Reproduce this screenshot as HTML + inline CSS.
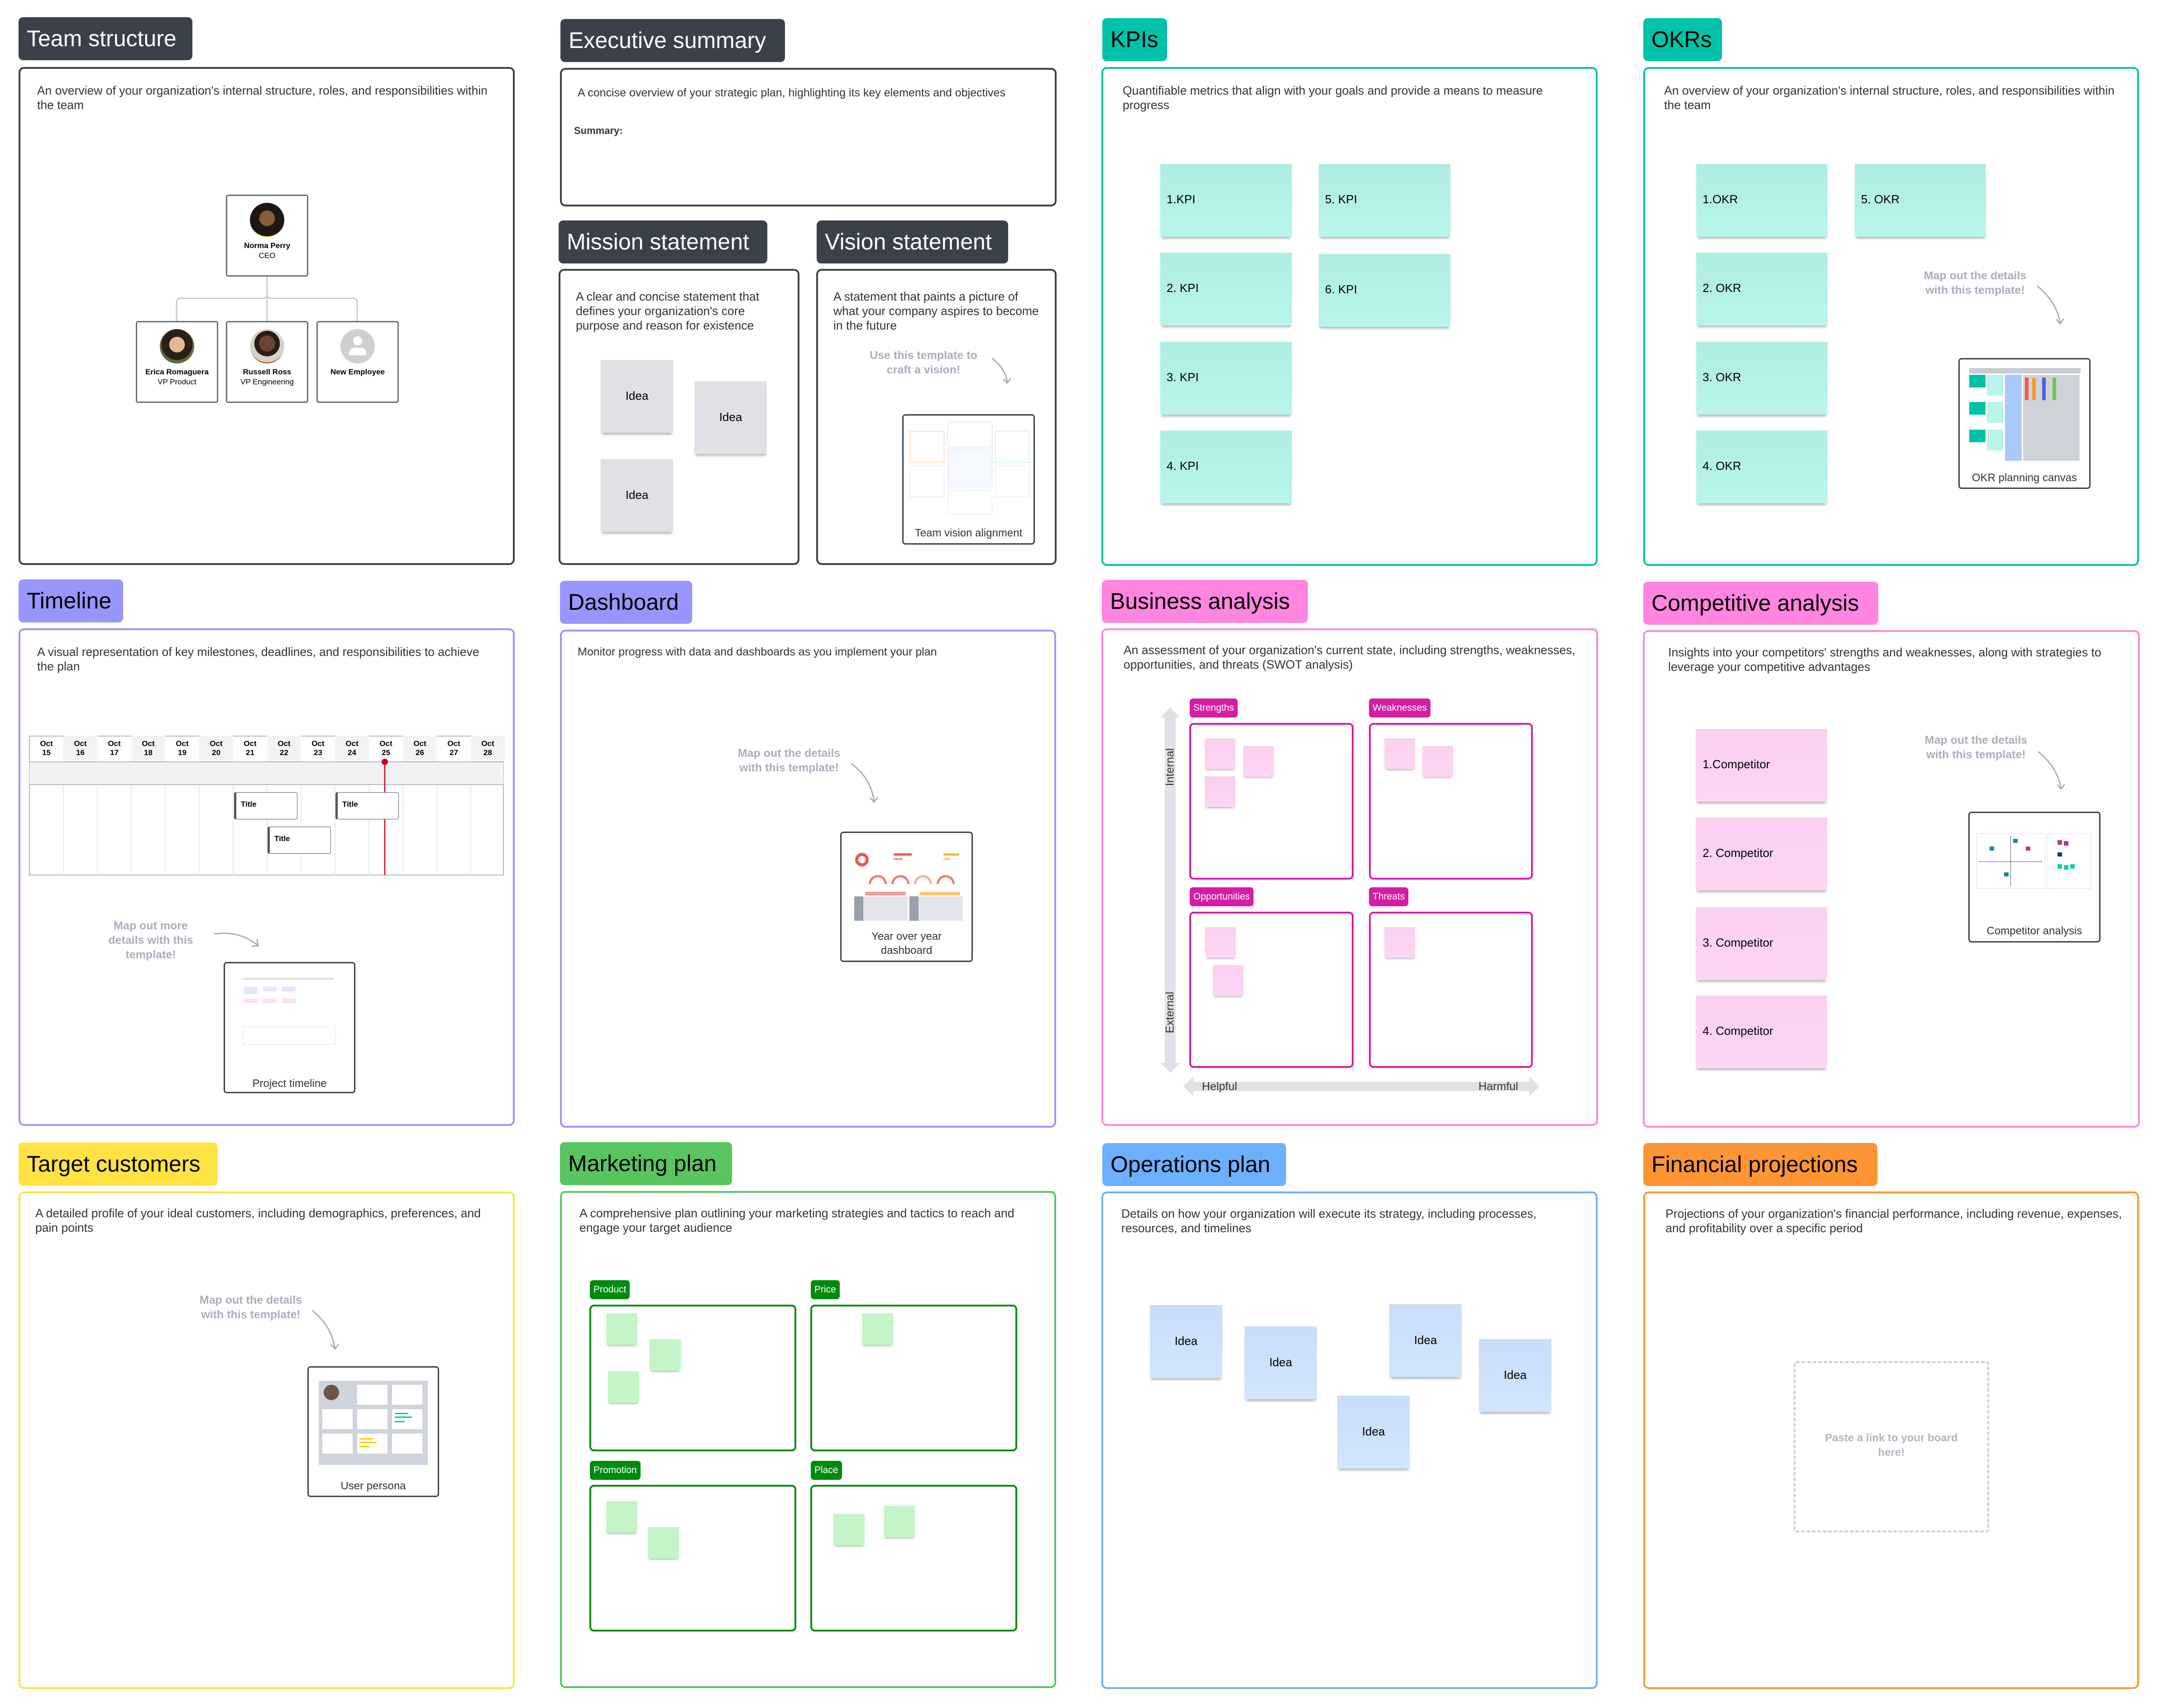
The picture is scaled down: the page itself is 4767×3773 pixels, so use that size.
<!DOCTYPE html>
<html><head><meta charset="utf-8">
<style>
*{box-sizing:border-box;margin:0;padding:0}
body{width:4767px;height:3773px;background:#fff;position:relative;overflow:hidden;font-family:"Liberation Sans",Arial,sans-serif;color:#222}
.a{position:absolute}
.lbl{position:absolute;height:95px;border-radius:10px;font-size:50px;line-height:95px;padding-left:18px;color:#000;white-space:nowrap}
.dark{background:#3a414a;color:#fff}
.pnl{position:absolute;border:4px solid #3a414a;border-radius:12px;background:#fff}
.desc{position:absolute;font-size:26.5px;line-height:32px;color:#333}
.st{position:absolute;box-shadow:0 7px 5px -3px rgba(0,0,0,.28)}
.st span{position:absolute}
.gray{background:#dfe1e5}.teal{background:linear-gradient(#afede4,#b8f5ec)}.pink{background:linear-gradient(#fbd0ef,#fdd6f4)}.grn{background:#c3f5c8}.blu{background:linear-gradient(#c9ddfa,#d2e5fd)}
.hint{position:absolute;font-size:25px;line-height:32px;font-weight:bold;color:#a9aebb;text-align:center;white-space:nowrap}
.card{position:absolute;border:3px solid #3a414a;border-radius:7px;background:#fff}
.card .cl{position:absolute;left:0;right:0;text-align:center;font-size:24px;line-height:31px;color:#333}
.node{position:absolute;width:182px;height:181px;border:3px solid #6b6e73;border-radius:5px;background:#fff;text-align:center;font-size:17px;line-height:22px;color:#000}
.av{width:76px;height:76px;border-radius:50%;margin:15px auto 8px}
.tag{position:absolute;height:42px;border-radius:7px;color:#fff;font-size:21px;line-height:42px;padding:0 8px;white-space:nowrap}
.mag{background:#d51da5}.dg{background:#008a0e}
.box{position:absolute;border:4px solid #d51da5;border-radius:10px}
.gbox{position:absolute;border:4px solid #008a0e;border-radius:10px}
.ss{position:absolute;width:68px;height:68px;box-shadow:0 5px 4px -3px rgba(0,0,0,.3)}
.oc{position:absolute;top:1625px;width:75px;height:57px;text-align:center;font-weight:bold;font-size:17px;line-height:20px;padding-top:8px;color:#000}
.tt{position:absolute;width:140px;height:60px;border:1.5px solid #555;border-left:5px solid #555;border-radius:4px;background:#fff;font-weight:bold;font-size:17px;padding:16px 0 0 10px;color:#000}
.mini{position:absolute;background:#e3e5e9}
.top{z-index:2}
</style></head><body>

<!-- ROW 1 -->
<div class="lbl dark" style="left:41px;top:38px;width:384px">Team structure</div>
<div class="pnl" style="left:41px;top:148px;width:1096px;height:1100px"></div>
<div class="desc" style="left:82px;top:184px;width:1010px">An overview of your organization's internal structure, roles, and responsibilities within the team</div>

<div class="node" style="left:499px;top:430px"><div class="av" style="background:radial-gradient(circle at 50% 45%,#8a5a3c 0 30%,#1e1612 31% 70%,#d9e44a 71%)"></div><b>Norma Perry</b><br>CEO</div>
<div class="node" style="left:300px;top:709px"><div class="av" style="background:radial-gradient(circle at 50% 45%,#e6b896 0 30%,#2b2018 31% 60%,#5d6b3e 61%)"></div><b>Erica Romaguera</b><br>VP Product</div>
<div class="node" style="left:499px;top:709px"><div class="av" style="background:radial-gradient(circle at 50% 42%,#6b4530 0 30%,#2a1d16 31% 48%,#d7d2c8 49% 70%,#c5653a 71%)"></div><b>Russell Ross</b><br>VP Engineering</div>
<div class="node" style="left:699px;top:709px"><div class="av" style="background:#cfcfcf;position:relative"><div style="position:absolute;left:28px;top:16px;width:20px;height:20px;border-radius:50%;background:#fff"></div><div style="position:absolute;left:19px;top:41px;width:38px;height:17px;border-radius:12px 12px 3px 3px;background:#fff"></div></div><b>New Employee</b></div>

<!-- Exec -->
<div class="lbl dark" style="left:1238px;top:42px;width:496px">Executive summary</div>
<div class="pnl" style="left:1237px;top:150px;width:1097px;height:306px"></div>
<div class="desc" style="left:1276px;top:189px;font-size:25px">A concise overview of your strategic plan, highlighting its key elements and objectives</div>
<div class="desc" style="left:1268px;top:273px;font-weight:bold;font-size:22px">Summary:</div>

<div class="lbl dark" style="left:1234px;top:487px;width:461px">Mission statement</div>
<div class="pnl" style="left:1234px;top:594px;width:532px;height:654px"></div>
<div class="desc" style="left:1272px;top:639px;width:430px">A clear and concise statement that defines your organization's core purpose and reason for existence</div>
<div class="st gray" style="left:1327px;top:795px;width:160px;height:161px"><span style="left:0;right:0;top:64px;text-align:center;font-size:26px;color:#000">Idea</span></div>
<div class="st gray" style="left:1534px;top:842px;width:160px;height:161px"><span style="left:0;right:0;top:64px;text-align:center;font-size:26px;color:#000">Idea</span></div>
<div class="st gray" style="left:1327px;top:1014px;width:160px;height:161px"><span style="left:0;right:0;top:64px;text-align:center;font-size:26px;color:#000">Idea</span></div>

<div class="lbl dark" style="left:1804px;top:487px;width:423px">Vision statement</div>
<div class="pnl" style="left:1803px;top:594px;width:531px;height:654px"></div>
<div class="desc" style="left:1841px;top:639px;width:465px">A statement that paints a picture of what your company aspires to become in the future</div>
<div class="hint" style="left:1900px;width:280px;top:769px">Use this template to<br>craft a vision!</div>
<div class="card" style="left:1993px;top:915px;width:293px;height:288px">
<div class="mini" style="left:14px;top:34px;width:76px;height:70px;background:#fff;border:1px solid #f3c9a0"></div>
<div class="mini" style="left:97px;top:14px;width:99px;height:56px;background:#fff;border:1px solid #f0d0e4"></div>
<div class="mini" style="left:97px;top:73px;width:99px;height:85px;background:#f5f8fd;border:1px solid #d8e4f5"></div>
<div class="mini" style="left:202px;top:34px;width:76px;height:70px;background:#fff;border:1px solid #a8e8e4"></div>
<div class="mini" style="left:14px;top:110px;width:76px;height:70px;background:#fff;border:1px solid #f3d6d6"></div>
<div class="mini" style="left:202px;top:110px;width:76px;height:70px;background:#fff;border:1px solid #f3e3c6"></div>
<div class="mini" style="left:97px;top:164px;width:99px;height:55px;background:#fff;border:1px solid #d6e8f5"></div>
<div class="cl" style="top:244px">Team vision alignment</div></div>

<!-- KPIs -->
<div class="lbl" style="left:2435px;top:40px;width:143px;background:#00c2a8">KPIs</div>
<div class="pnl" style="left:2433px;top:148px;width:1096px;height:1102px;border-color:#00c2a8"></div>
<div class="desc" style="left:2480px;top:184px;width:960px">Quantifiable metrics that align with your goals and provide a means to measure progress</div>
<div class="st teal" style="left:2563px;top:362px;width:291px;height:161px"><span style="left:14px;top:63px;font-size:26px;color:#000">1.KPI</span></div>
<div class="st teal" style="left:2563px;top:558px;width:291px;height:161px"><span style="left:14px;top:63px;font-size:26px;color:#000">2. KPI</span></div>
<div class="st teal" style="left:2563px;top:755px;width:291px;height:161px"><span style="left:14px;top:63px;font-size:26px;color:#000">3. KPI</span></div>
<div class="st teal" style="left:2563px;top:951px;width:291px;height:161px"><span style="left:14px;top:63px;font-size:26px;color:#000">4. KPI</span></div>
<div class="st teal" style="left:2913px;top:362px;width:291px;height:161px"><span style="left:14px;top:63px;font-size:26px;color:#000">5. KPI</span></div>
<div class="st teal" style="left:2913px;top:561px;width:291px;height:161px"><span style="left:14px;top:63px;font-size:26px;color:#000">6. KPI</span></div>

<!-- OKRs -->
<div class="lbl" style="left:3630px;top:40px;width:174px;background:#00c2a8">OKRs</div>
<div class="pnl" style="left:3630px;top:148px;width:1095px;height:1102px;border-color:#00c2a8"></div>
<div class="desc" style="left:3676px;top:184px;width:1010px">An overview of your organization's internal structure, roles, and responsibilities within the team</div>
<div class="st teal" style="left:3747px;top:362px;width:290px;height:161px"><span style="left:14px;top:63px;font-size:26px;color:#000">1.OKR</span></div>
<div class="st teal" style="left:3747px;top:558px;width:290px;height:161px"><span style="left:14px;top:63px;font-size:26px;color:#000">2. OKR</span></div>
<div class="st teal" style="left:3747px;top:755px;width:290px;height:161px"><span style="left:14px;top:63px;font-size:26px;color:#000">3. OKR</span></div>
<div class="st teal" style="left:3747px;top:951px;width:290px;height:161px"><span style="left:14px;top:63px;font-size:26px;color:#000">4. OKR</span></div>
<div class="st teal" style="left:4097px;top:362px;width:290px;height:161px"><span style="left:14px;top:63px;font-size:26px;color:#000">5. OKR</span></div>
<div class="hint" style="left:4223px;width:280px;top:593px">Map out the details<br>with this template!</div>
<div class="card" style="left:4326px;top:791px;width:292px;height:289px">
<div class="mini" style="left:21px;top:19px;width:246px;height:12px;background:#c8cbd2"></div>
<div class="mini" style="left:21px;top:34px;width:36px;height:28px;background:#00c2a8"></div>
<div class="mini" style="left:21px;top:94px;width:36px;height:28px;background:#00c2a8"></div>
<div class="mini" style="left:21px;top:155px;width:36px;height:28px;background:#00c2a8"></div>
<div class="mini" style="left:60px;top:34px;width:36px;height:46px;background:#b8f5ec"></div>
<div class="mini" style="left:60px;top:94px;width:36px;height:46px;background:#b8f5ec"></div>
<div class="mini" style="left:60px;top:155px;width:36px;height:46px;background:#b8f5ec"></div>
<div class="mini" style="left:100px;top:34px;width:37px;height:190px;background:#a9c9f7"></div>
<div class="mini" style="left:140px;top:34px;width:125px;height:190px;background:#cfd3d9"></div>
<div class="mini" style="left:144px;top:40px;width:8px;height:50px;background:#f2564d"></div>
<div class="mini" style="left:160px;top:40px;width:8px;height:50px;background:#f59a2e"></div>
<div class="mini" style="left:182px;top:40px;width:8px;height:50px;background:#4b62d8"></div>
<div class="mini" style="left:205px;top:40px;width:8px;height:50px;background:#6ac94a"></div>
<div class="cl" style="top:246px">OKR planning canvas</div></div>

<!-- ROW 2 -->
<div class="lbl" style="left:41px;top:1280px;width:231px;background:#9896fd">Timeline</div>
<div class="pnl" style="left:41px;top:1388px;width:1096px;height:1099px;border-color:#9896fd"></div>
<div class="desc" style="left:82px;top:1424px;width:1010px">A visual representation of key milestones, deadlines, and responsibilities to achieve the plan</div>
<div class="a" style="left:64px;top:1625px;width:1049px;height:309px;border:2px solid #b3b6bc;background:#fff"></div>
<div class="a" style="left:65px;top:1682px;width:1047px;height:52px;background:#f1f2f4;border-top:2px solid #b3b6bc;border-bottom:2px solid #b3b6bc"></div>
<div class="hint" style="left:193px;width:280px;top:2029px">Map out more<br>details with this<br>template!</div>

<div class="lbl" style="left:1237px;top:1283px;width:292px;background:#9896fd">Dashboard</div>
<div class="pnl" style="left:1237px;top:1391px;width:1096px;height:1100px;border-color:#9896fd"></div>
<div class="desc" style="left:1276px;top:1424px;font-size:25px">Monitor progress with data and dashboards as you implement your plan</div>
<div class="hint" style="left:1603px;width:280px;top:1648px">Map out the details<br>with this template!</div>
<div class="card" style="left:1856px;top:1837px;width:293px;height:288px">
<div class="mini" style="left:30px;top:44px;width:30px;height:30px;border-radius:50%;background:none;border:7px solid #e9595a"></div>
<div class="mini" style="left:115px;top:45px;width:40px;height:5px;background:#e9595a"></div>
<div class="mini" style="left:115px;top:55px;width:20px;height:5px;background:#f3a3a3"></div>
<div class="mini" style="left:225px;top:45px;width:35px;height:5px;background:#f7b63d"></div>
<div class="mini" style="left:225px;top:55px;width:15px;height:5px;background:#fcd58a"></div>
<div class="mini" style="left:60px;top:93px;width:40px;height:20px;border-radius:20px 20px 0 0;background:none;border:5px solid #f07d6d;border-bottom:none"></div>
<div class="mini" style="left:110px;top:93px;width:40px;height:20px;border-radius:20px 20px 0 0;background:none;border:5px solid #f07d6d;border-bottom:none"></div>
<div class="mini" style="left:160px;top:93px;width:40px;height:20px;border-radius:20px 20px 0 0;background:none;border:5px solid #f7b0a0;border-bottom:none"></div>
<div class="mini" style="left:210px;top:93px;width:40px;height:20px;border-radius:20px 20px 0 0;background:none;border:5px solid #f07d6d;border-bottom:none"></div>
<div class="mini" style="left:52px;top:130px;width:90px;height:8px;background:#f59a9a"></div>
<div class="mini" style="left:172px;top:130px;width:90px;height:8px;background:#fbc76a"></div>
<div class="mini" style="left:28px;top:140px;width:118px;height:54px"></div>
<div class="mini" style="left:150px;top:140px;width:118px;height:54px"></div>
<div class="mini" style="left:28px;top:140px;width:20px;height:54px;background:#9aa0aa"></div>
<div class="mini" style="left:150px;top:140px;width:20px;height:54px;background:#9aa0aa"></div>
<div class="cl" style="top:213px">Year over year<br>dashboard</div></div>

<!-- Business analysis -->
<div class="lbl" style="left:2434px;top:1281px;width:455px;background:#ff85e0">Business analysis</div>
<div class="pnl" style="left:2433px;top:1388px;width:1097px;height:1099px;border-color:#ff85e0"></div>
<div class="desc" style="left:2482px;top:1420px;width:1030px">An assessment of your organization's current state, including strengths, weaknesses, opportunities, and threats (SWOT analysis)</div>
<div class="tag mag" style="left:2628px;top:1543px">Strengths</div>
<div class="tag mag" style="left:3024px;top:1543px">Weaknesses</div>
<div class="tag mag" style="left:2628px;top:1960px">Opportunities</div>
<div class="tag mag" style="left:3024px;top:1960px">Threats</div>
<div class="box" style="left:2627px;top:1597px;width:363px;height:346px"></div>
<div class="box" style="left:3024px;top:1597px;width:362px;height:346px"></div>
<div class="box" style="left:2627px;top:2014px;width:363px;height:345px"></div>
<div class="box" style="left:3024px;top:2014px;width:362px;height:345px"></div>
<div class="ss pink" style="left:2661px;top:1631px"></div>
<div class="ss pink" style="left:2746px;top:1648px"></div>
<div class="ss pink" style="left:2661px;top:1715px"></div>
<div class="ss pink" style="left:3058px;top:1631px"></div>
<div class="ss pink" style="left:3142px;top:1648px"></div>
<div class="ss pink" style="left:2662px;top:2048px"></div>
<div class="ss pink" style="left:2679px;top:2132px"></div>
<div class="ss pink" style="left:3058px;top:2048px"></div>
<div class="a top" style="left:2530px;top:1680px;width:110px;font-size:25px;color:#333;transform:rotate(-90deg);text-align:center">Internal</div>
<div class="a top" style="left:2530px;top:2222px;width:110px;font-size:25px;color:#333;transform:rotate(-90deg);text-align:center">External</div>
<div class="a top" style="left:2655px;top:2386px;font-size:25px;color:#333">Helpful</div>
<div class="a top" style="left:3266px;top:2386px;font-size:25px;color:#333">Harmful</div>

<!-- Competitive -->
<div class="lbl" style="left:3630px;top:1285px;width:519px;background:#ff85e0">Competitive analysis</div>
<div class="pnl" style="left:3629px;top:1392px;width:1098px;height:1099px;border-color:#ff85e0"></div>
<div class="desc" style="left:3685px;top:1425px;width:1000px">Insights into your competitors' strengths and weaknesses, along with strategies to leverage your competitive advantages</div>
<div class="st pink" style="left:3746px;top:1610px;width:290px;height:161px"><span style="left:15px;top:63px;font-size:26px;color:#000">1.Competitor</span></div>
<div class="st pink" style="left:3746px;top:1806px;width:290px;height:161px"><span style="left:15px;top:63px;font-size:26px;color:#000">2. Competitor</span></div>
<div class="st pink" style="left:3746px;top:2004px;width:290px;height:161px"><span style="left:15px;top:63px;font-size:26px;color:#000">3. Competitor</span></div>
<div class="st pink" style="left:3746px;top:2199px;width:290px;height:161px"><span style="left:15px;top:63px;font-size:26px;color:#000">4. Competitor</span></div>
<div class="hint" style="left:4225px;width:280px;top:1619px">Map out the details<br>with this template!</div>
<div class="card" style="left:4348px;top:1793px;width:292px;height:289px">
<div class="mini" style="left:15px;top:45px;width:152px;height:122px;background:#fff;border:1px solid #ddd"></div>
<div class="mini" style="left:90px;top:50px;width:1px;height:112px;background:#4a5a8a"></div>
<div class="mini" style="left:20px;top:107px;width:140px;height:1px;background:#4a5a8a"></div>
<div class="mini" style="left:44px;top:74px;width:10px;height:9px;background:#138a9c"></div>
<div class="mini" style="left:96px;top:57px;width:10px;height:9px;background:#138a9c"></div>
<div class="mini" style="left:124px;top:74px;width:10px;height:9px;background:#b13c89"></div>
<div class="mini" style="left:76px;top:131px;width:10px;height:9px;background:#138a9c"></div>
<div class="mini" style="left:172px;top:45px;width:96px;height:122px;background:#fff;border:1px solid #ddd"></div>
<div class="mini" style="left:194px;top:60px;width:10px;height:10px;background:#b13c89"></div>
<div class="mini" style="left:208px;top:62px;width:10px;height:10px;background:#b13c89"></div>
<div class="mini" style="left:194px;top:87px;width:10px;height:9px;background:#1c3a6b"></div>
<div class="mini" style="left:194px;top:113px;width:10px;height:10px;background:#12d1a8"></div>
<div class="mini" style="left:208px;top:115px;width:10px;height:10px;background:#12d1a8"></div>
<div class="mini" style="left:222px;top:113px;width:10px;height:10px;background:#12d1a8"></div>
<div class="cl" style="top:245px">Competitor analysis</div></div>

<!-- ROW 3 -->
<div class="lbl" style="left:41px;top:2524px;width:440px;background:#ffe342">Target customers</div>
<div class="pnl" style="left:41px;top:2632px;width:1096px;height:1099px;border-color:#ffe342"></div>
<div class="desc" style="left:78px;top:2664px;width:1010px">A detailed profile of your ideal customers, including demographics, preferences, and pain points</div>
<div class="hint" style="left:414px;width:280px;top:2856px">Map out the details<br>with this template!</div>
<div class="card" style="left:679px;top:3018px;width:291px;height:289px">
<div class="mini" style="left:22px;top:29px;width:241px;height:186px;background:#cfd4dc"></div>
<div class="mini" style="left:33px;top:38px;width:34px;height:34px;border-radius:50%;background:#6b5548"></div>
<div class="mini" style="left:107px;top:38px;width:67px;height:44px;background:#fff"></div>
<div class="mini" style="left:184px;top:38px;width:67px;height:44px;background:#fff"></div>
<div class="mini" style="left:30px;top:92px;width:67px;height:44px;background:#fff"></div>
<div class="mini" style="left:107px;top:92px;width:67px;height:44px;background:#fff"></div>
<div class="mini" style="left:184px;top:92px;width:67px;height:44px;background:#fff"></div>
<div class="mini" style="left:190px;top:100px;width:30px;height:3px;background:#12c2a8"></div>
<div class="mini" style="left:190px;top:108px;width:38px;height:3px;background:#12c2a8"></div>
<div class="mini" style="left:190px;top:118px;width:22px;height:3px;background:#12c2a8"></div>
<div class="mini" style="left:30px;top:146px;width:67px;height:44px;background:#fff"></div>
<div class="mini" style="left:107px;top:146px;width:67px;height:44px;background:#fff"></div>
<div class="mini" style="left:184px;top:146px;width:67px;height:44px;background:#fff"></div>
<div class="mini" style="left:112px;top:156px;width:30px;height:3px;background:#ffc800"></div>
<div class="mini" style="left:112px;top:164px;width:38px;height:3px;background:#ffc800"></div>
<div class="mini" style="left:112px;top:173px;width:22px;height:3px;background:#ffc800"></div>
<div class="cl" style="top:246px">User persona</div></div>

<!-- Marketing -->
<div class="lbl" style="left:1237px;top:2523px;width:380px;background:#58c560">Marketing plan</div>
<div class="pnl" style="left:1237px;top:2631px;width:1096px;height:1098px;border-color:#58c560"></div>
<div class="desc" style="left:1280px;top:2664px;width:1000px">A comprehensive plan outlining your marketing strategies and tactics to reach and engage your target audience</div>
<div class="tag dg" style="left:1303px;top:2828px">Product</div>
<div class="tag dg" style="left:1791px;top:2828px">Price</div>
<div class="tag dg" style="left:1303px;top:3227px">Promotion</div>
<div class="tag dg" style="left:1791px;top:3227px">Place</div>
<div class="gbox" style="left:1302px;top:2882px;width:457px;height:324px"></div>
<div class="gbox" style="left:1790px;top:2882px;width:457px;height:324px"></div>
<div class="gbox" style="left:1302px;top:3280px;width:457px;height:324px"></div>
<div class="gbox" style="left:1790px;top:3280px;width:457px;height:324px"></div>
<div class="ss grn" style="left:1339px;top:2901px;width:69px;height:70px"></div>
<div class="ss grn" style="left:1435px;top:2958px;width:69px;height:70px"></div>
<div class="ss grn" style="left:1343px;top:3029px;width:69px;height:70px"></div>
<div class="ss grn" style="left:1904px;top:2901px;width:69px;height:70px"></div>
<div class="ss grn" style="left:1339px;top:3316px;width:69px;height:70px"></div>
<div class="ss grn" style="left:1431px;top:3373px;width:69px;height:70px"></div>
<div class="ss grn" style="left:1841px;top:3344px;width:69px;height:70px"></div>
<div class="ss grn" style="left:1952px;top:3326px;width:69px;height:70px"></div>

<!-- Operations -->
<div class="lbl" style="left:2435px;top:2525px;width:406px;background:#6db0fd">Operations plan</div>
<div class="pnl" style="left:2433px;top:2632px;width:1096px;height:1099px;border-color:#6db0fd"></div>
<div class="desc" style="left:2477px;top:2665px;width:960px">Details on how your organization will execute its strategy, including processes, resources, and timelines</div>
<div class="st blu" style="left:2540px;top:2883px;width:160px;height:161px"><span style="left:0;right:0;top:64px;text-align:center;font-size:26px;color:#000">Idea</span></div>
<div class="st blu" style="left:2749px;top:2930px;width:160px;height:161px"><span style="left:0;right:0;top:64px;text-align:center;font-size:26px;color:#000">Idea</span></div>
<div class="st blu" style="left:3069px;top:2881px;width:160px;height:161px"><span style="left:0;right:0;top:64px;text-align:center;font-size:26px;color:#000">Idea</span></div>
<div class="st blu" style="left:3267px;top:2958px;width:160px;height:161px"><span style="left:0;right:0;top:64px;text-align:center;font-size:26px;color:#000">Idea</span></div>
<div class="st blu" style="left:2954px;top:3083px;width:160px;height:161px"><span style="left:0;right:0;top:64px;text-align:center;font-size:26px;color:#000">Idea</span></div>

<!-- Financial -->
<div class="lbl" style="left:3630px;top:2525px;width:517px;background:#fd9535">Financial projections</div>
<div class="pnl" style="left:3630px;top:2632px;width:1095px;height:1099px;border-color:#fd9535"></div>
<div class="desc" style="left:3679px;top:2665px;width:1030px">Projections of your organization's financial performance, including revenue, expenses, and profitability over a specific period</div>
<div class="a" style="left:3962px;top:3007px;width:432px;height:378px;border:4px dashed #ccd0d6;border-radius:6px"></div>
<div class="hint" style="left:3978px;width:400px;top:3161px;font-size:24px;color:#b2b6be">Paste a link to your board<br>here!</div>

<!-- Timeline header cells -->
<div class="oc" style="left:65px">Oct<br>15</div>
<div class="oc" style="left:140px;background:#f2f3f5">Oct<br>16</div>
<div class="oc" style="left:215px">Oct<br>17</div>
<div class="oc" style="left:290px;background:#f2f3f5">Oct<br>18</div>
<div class="oc" style="left:365px">Oct<br>19</div>
<div class="oc" style="left:440px;background:#f2f3f5">Oct<br>20</div>
<div class="oc" style="left:515px">Oct<br>21</div>
<div class="oc" style="left:590px;background:#f2f3f5">Oct<br>22</div>
<div class="oc" style="left:665px">Oct<br>23</div>
<div class="oc" style="left:740px;background:#f2f3f5">Oct<br>24</div>
<div class="oc" style="left:815px">Oct<br>25</div>
<div class="oc" style="left:890px;background:#f2f3f5">Oct<br>26</div>
<div class="oc" style="left:965px">Oct<br>27</div>
<div class="oc" style="left:1040px;background:#f2f3f5">Oct<br>28</div>

<svg class="a" style="left:0;top:0;z-index:1" width="4767" height="3773" viewBox="0 0 4767 3773" fill="none">
 <g stroke="#c9c9c9" stroke-width="3">
  <path d="M590 611 V650 Q590 659 580 659 H400 Q390 659 390 669 V709"/>
  <path d="M590 650 Q590 659 600 659 H779 Q789 659 789 669 V709"/>
  <path d="M590 650 V709"/>
 </g>
 <g stroke="#e8e9ec" stroke-width="2">
  <path d="M140 1736V1933M215 1736V1933M290 1736V1933M365 1736V1933M440 1736V1933M515 1736V1933M590 1736V1933M665 1736V1933M740 1736V1933M815 1736V1933M890 1736V1933M965 1736V1933M1040 1736V1933"/>
 </g>
 <path d="M850 1684V1933" stroke="#c8001e" stroke-width="2.5"/>
 <circle cx="850" cy="1683" r="7" fill="#c8001e"/>
 <g stroke="#a9aebb" stroke-width="3" stroke-linecap="round">
  <path d="M474 2063 Q530 2055 570 2089"/><path d="M557 2090 L570 2089 L568 2076"/>
  <path d="M2192 792 Q2222 815 2225 846"/><path d="M2217 838 L2225 846 L2232 837"/>
  <path d="M4501 632 Q4545 670 4551 715"/><path d="M4543 706 L4551 715 L4558 705"/>
  <path d="M1881 1687 Q1925 1720 1931 1772"/><path d="M1923 1763 L1931 1772 L1938 1762"/>
  <path d="M4503 1661 Q4545 1695 4553 1743"/><path d="M4545 1734 L4553 1743 L4560 1733"/>
  <path d="M691 2896 Q733 2930 740 2980"/><path d="M732 2971 L740 2980 L747 2970"/>
 </g>
 <g fill="#dfe1e6">
  <path d="M2585 1563 L2607 1585 L2597 1585 L2597 2348 L2607 2348 L2585 2370 L2563 2348 L2573 2348 L2573 1585 L2563 1585 Z"/>
  <path d="M2614 2400 L2636 2378 L2636 2390 L3378 2390 L3378 2378 L3400 2400 L3378 2422 L3378 2410 L2636 2410 L2636 2422 Z"/>
 </g>
</svg>
<div class="tt top" style="left:517px;top:1750px">Title</div>
<div class="tt top" style="left:741px;top:1750px">Title</div>
<div class="tt top" style="left:591px;top:1826px">Title</div>
<div class="card top" style="left:494px;top:2125px;width:291px;height:290px">
<div class="mini" style="left:40px;top:32px;width:200px;height:4px;background:#ddd"></div>
<div class="mini" style="left:42px;top:52px;width:30px;height:16px;background:#e6e6fb"></div>
<div class="mini" style="left:84px;top:52px;width:30px;height:10px;background:#e6e6fb"></div>
<div class="mini" style="left:126px;top:52px;width:30px;height:10px;background:#e6e6fb"></div>
<div class="mini" style="left:42px;top:78px;width:30px;height:10px;background:#fce0f5"></div>
<div class="mini" style="left:84px;top:78px;width:30px;height:10px;background:#fce0f5"></div>
<div class="mini" style="left:126px;top:78px;width:30px;height:10px;background:#fce0f5"></div>
<div class="mini" style="left:40px;top:140px;width:205px;height:40px;background:#fff;border:1px solid #e5e5e5"></div>
<div class="cl" style="top:250px">Project timeline</div></div>
</body></html>
